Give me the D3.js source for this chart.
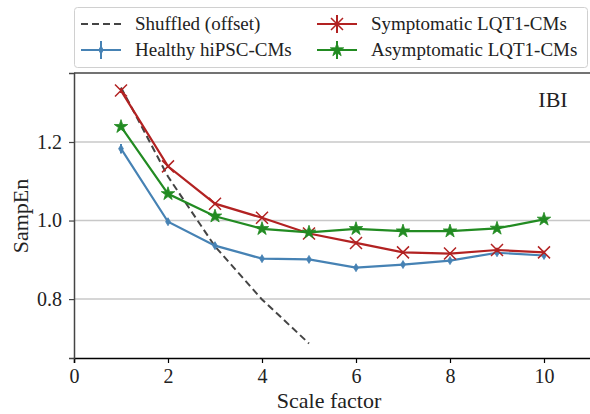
<!DOCTYPE html>
<html>
<head>
<meta charset="utf-8">
<script src="https://cdn.jsdelivr.net/npm/d3@7"></script>
<style>
  body { margin: 0; background: #fff; }
</style>
</head>
<body>
<div id="chart"></div>
<script>
// scale factors and SampEn values
let scales = [1, 2, 3, 4, 5, 6, 7, 8, 9, 10];
let shuffledScales = [1, 2, 3, 4, 5];
let shuffled = [1.339, 1.112, 0.934, 0.799, 0.687];
let healthy = [1.183, 0.997, 0.936, 0.903, 0.901, 0.880, 0.888, 0.898, 0.918, 0.911];
let healthyErr = [0.012, 0.006, 0.005, 0.005, 0.005, 0.005, 0.005, 0.005, 0.005, 0.005];
let symptomatic = [1.331, 1.138, 1.043, 1.007, 0.967, 0.943, 0.919, 0.916, 0.925, 0.919];
let symptomaticErr = [0.006, 0.004, 0.004, 0.004, 0.004, 0.004, 0.004, 0.004, 0.006, 0.004];
let asymptomatic = [1.239, 1.068, 1.011, 0.979, 0.970, 0.979, 0.973, 0.973, 0.980, 1.003];
let asymptomaticErr = [0.006, 0.004, 0.004, 0.004, 0.004, 0.004, 0.004, 0.004, 0.004, 0.005];
let xTicks = [0, 2, 4, 6, 8, 10];
let yTicks = [0.8, 1.0, 1.2];

let fontFam = '"Liberation Serif"';

let margin = { top: 73, left: 74, right: 0, bottom: 56 },
  width = 590,
  height = 414;

let svg = d3.select('#chart')
  .append('svg')
  .attr('width', width)
  .attr('height', height);

let xScale = d3.scaleLinear()
  .domain([0, 11])
  .range([margin.left, width - margin.right + 1]);

let yScale = d3.scaleLinear()
  .domain([0.65, 1.3757])
  .range([height - margin.bottom, margin.top]);

// grid lines
svg.append('g')
  .selectAll('line')
  .data(yTicks)
  .enter()
  .append('line')
  .attr('x1', margin.left)
  .attr('x2', width)
  .attr('y1', d => yScale(d))
  .attr('y2', d => yScale(d))
  .attr('stroke', '#c8c8c8')
  .attr('stroke-width', 1.5);

// x axis
let xAxis = svg.append('g')
  .attr('transform', `translate(0,${height - margin.bottom})`)
  .call(d3.axisBottom(xScale).tickValues(xTicks).tickSize(5).tickPadding(6).tickFormat(d3.format('d')));
xAxis.select('.domain').attr('stroke', '#000').attr('stroke-width', 1.5);
xAxis.selectAll('.tick line').attr('stroke', '#000').attr('stroke-width', 1.2);
xAxis.selectAll('text').style('font-size', '20px').style('font-family', fontFam).attr('fill', '#222');

// y axis
let yAxis = svg.append('g')
  .attr('transform', `translate(${margin.left},0)`)
  .call(d3.axisLeft(yScale).tickValues(yTicks).tickSize(5).tickPadding(7).tickFormat(d3.format('.1f')));
yAxis.select('.domain').attr('stroke', '#444').attr('stroke-width', 1.5);
yAxis.selectAll('.tick line').attr('stroke', '#444').attr('stroke-width', 1.2);
yAxis.selectAll('text').style('font-size', '20px').style('font-family', fontFam).attr('fill', '#222');

// top spine
svg.append('line')
  .attr('x1', margin.left)
  .attr('x2', width)
  .attr('y1', margin.top)
  .attr('y2', margin.top)
  .attr('stroke', '#444')
  .attr('stroke-width', 1.5);

// axis labels
svg.append('text')
  .attr('x', 329)
  .attr('y', 408)
  .attr('text-anchor', 'middle')
  .attr('fill', '#222')
  .style('font-family', fontFam)
  .style('font-size', '22px')
  .text('Scale factor');

svg.append('text')
  .attr('transform', 'translate(28,216) rotate(-90)')
  .attr('text-anchor', 'middle')
  .attr('fill', '#222')
  .style('font-family', fontFam)
  .style('font-size', '22px')
  .text('SampEn');

svg.append('text')
  .attr('x', 553)
  .attr('y', 107)
  .attr('text-anchor', 'middle')
  .attr('fill', '#222')
  .style('font-family', fontFam)
  .style('font-size', '22px')
  .text('IBI');

let line = d3.line()
  .x(d => xScale(d[0]))
  .y(d => yScale(d[1]));

// shuffled surrogate (dashed)
svg.append('path')
  .datum(shuffledScales.map((s, i) => [s, shuffled[i]]))
  .attr('d', line)
  .attr('fill', 'none')
  .attr('stroke', '#444')
  .attr('stroke-width', 2)
  .attr('stroke-dasharray', '7,4');

// marker shapes
function markerPath(type, s) {
  if(type == 'diamond') {
    return `M0,${-s}L${s * 0.6},0L0,${s}L${-s * 0.6},0Z`;
  }
  if(type == 'x') {
    return `M${-s},${-s}L${s},${s}M${-s},${s}L${s},${-s}`;
  }
  return d3.symbol().type(d3.symbolStar).size(s * s * 3.2)();
}

let series = [
  { name: 'Healthy hiPSC-CMs', values: healthy, err: healthyErr, color: '#4682b4', marker: 'diamond', size: 4 },
  { name: 'Symptomatic LQT1-CMs', values: symptomatic, err: symptomaticErr, color: '#b22222', marker: 'x', size: 6 },
  { name: 'Asymptomatic LQT1-CMs', values: asymptomatic, err: asymptomaticErr, color: '#228b22', marker: 'star', size: 4.2 }
];

function drawMarker(g, m, x, y) {
  let p = g.append('path')
    .attr('transform', `translate(${x},${y})`)
    .attr('d', markerPath(m.marker, m.size));
  if(m.marker == 'x') {
    p.attr('fill', 'none').attr('stroke', m.color).attr('stroke-width', 1.5);
  } else {
    p.attr('fill', m.color).attr('stroke', m.color).attr('stroke-width', 0.8);
  }
}

series.forEach(function(s) {
  let g = svg.append('g');
  let pts = scales.map((x, i) => [x, s.values[i]]);
  g.append('path')
    .datum(pts)
    .attr('d', line)
    .attr('fill', 'none')
    .attr('stroke', s.color)
    .attr('stroke-width', 2.2);
  // error bars
  g.selectAll('.err')
    .data(pts)
    .enter()
    .append('line')
    .attr('x1', d => xScale(d[0]))
    .attr('x2', d => xScale(d[0]))
    .attr('y1', (d, i) => yScale(d[1] - s.err[i]))
    .attr('y2', (d, i) => yScale(d[1] + s.err[i]))
    .attr('stroke', s.color)
    .attr('stroke-width', 2);
  pts.forEach(d => drawMarker(g, s, xScale(d[0]), yScale(d[1])));
});

// legend
let legend = svg.append('g');
legend.append('rect')
  .attr('x', 74.5)
  .attr('y', 7.5)
  .attr('width', 513)
  .attr('height', 60)
  .attr('rx', 3)
  .attr('fill', '#fff')
  .attr('stroke', '#d0d0d0')
  .attr('stroke-width', 1);

let legendItems = [
  { name: 'Shuffled (offset)', col: 0, row: 0, dashed: true },
  { name: series[0].name, col: 0, row: 1, s: series[0] },
  { name: series[1].name, col: 1, row: 0, s: series[1] },
  { name: series[2].name, col: 1, row: 1, s: series[2] }
];
let colX = [81, 317];
let rowY = [24, 50];

legendItems.forEach(function(item) {
  let x0 = colX[item.col], y0 = rowY[item.row];
  if(item.dashed) {
    legend.append('line')
      .attr('x1', x0).attr('x2', x0 + 40)
      .attr('y1', y0).attr('y2', y0)
      .attr('stroke', '#444')
      .attr('stroke-width', 2)
      .attr('stroke-dasharray', '7,4');
  } else {
    legend.append('line')
      .attr('x1', x0).attr('x2', x0 + 40)
      .attr('y1', y0).attr('y2', y0)
      .attr('stroke', item.s.color)
      .attr('stroke-width', 2.2);
    legend.append('line')
      .attr('x1', x0 + 20).attr('x2', x0 + 20)
      .attr('y1', y0 - 9).attr('y2', y0 + 9)
      .attr('stroke', item.s.color)
      .attr('stroke-width', 2);
    drawMarker(legend, item.s, x0 + 20, y0);
  }
  legend.append('text')
    .attr('x', x0 + 54)
    .attr('y', y0 + 6)
    .attr('fill', '#222')
    .style('font-family', fontFam)
    .style('font-size', '19px')
    .text(item.name);
});
</script>
</body>
</html>
